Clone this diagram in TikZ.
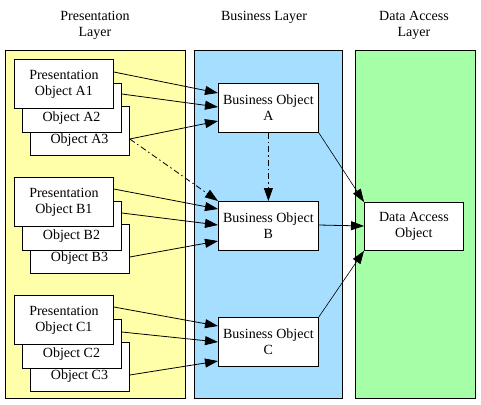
\documentclass[tikz,border=0pt]{standalone}
\usepackage{fontspec}
\setmainfont{Liberation Serif}
\usetikzlibrary{arrows.meta}
\definecolor{presy}{HTML}{FFFFAA}
\definecolor{busb}{HTML}{A6DEFF}
\definecolor{datag}{HTML}{A6FFA6}
\tikzset{
  panel/.style={draw=black, line width=0.8pt, anchor=north west, inner sep=0pt},
  objbox/.style={draw=black, fill=white, line width=0.8pt, inner sep=0pt, anchor=north west,
     minimum width=99pt, minimum height=49pt, align=center, font=\fontsize{14}{16}\selectfont},
  lbl/.style={inner sep=0pt, align=center, font=\fontsize{14}{16}\selectfont},
  conn/.style={line width=0.8pt, -{Triangle[length=13pt,width=9pt]}},
  thinconn/.style={line width=0.6pt, -{Triangle[length=13pt,width=9pt]}},
  dashdot/.style={line width=0.8pt, dash pattern=on 6pt off 3pt on 1.5pt off 3pt, -{Triangle[length=13pt,width=9pt]}}
}
\begin{document}
\begin{tikzpicture}[x=1pt,y=-1pt]
\useasboundingbox (0,0) rectangle (481,404);
\fill[white] (0,0) rectangle (481,404);
% panels
\node[panel, fill=presy, minimum width=180pt, minimum height=348pt] (pl) at (5,50) {};
\node[panel, fill=busb, minimum width=148pt, minimum height=348pt] (bl) at (194,50) {};
\node[panel, fill=datag, minimum width=120pt, minimum height=348pt] (dl) at (355,50) {};
% headers
\node[lbl] (hp) at (95,25) {Presentation\\Layer};
\node[lbl] (hb) at (264,17) {Business Layer};
\node[lbl] (hd) at (414,25) {Data Access\\Layer};
% presentation A
\node[objbox] (a3) at (30,106) {};
\node[lbl] (a3t) at (79.5,140) {Object A3};
\node[objbox] (a2) at (22,83) {};
\node[lbl] (a2t) at (71.5,118) {Object A2};
\node[objbox] (a1) at (14,59) {Presentation\\Object A1};
% presentation B
\node[objbox] (b3) at (30,224) {};
\node[lbl] (b3t) at (79.5,258) {Object B3};
\node[objbox] (b2) at (22,201) {};
\node[lbl] (b2t) at (71.5,236) {Object B2};
\node[objbox] (b1) at (14,177) {Presentation\\Object B1};
% presentation C
\node[objbox] (c3) at (30,342) {};
\node[lbl] (c3t) at (79.5,376) {Object C3};
\node[objbox] (c2) at (22,319) {};
\node[lbl] (c2t) at (71.5,354) {Object C2};
\node[objbox] (c1) at (14,295) {Presentation\\Object C1};
% business
\node[objbox, minimum width=100pt] (ba) at (218,83) {Business Object\\A};
\node[objbox, minimum width=100pt] (bb) at (218,201) {Business Object\\B};
\node[objbox, minimum width=100pt] (bc) at (218,317) {Business Object\\C};
% data access
\node[objbox, minimum height=48pt] (dao) at (364,202) {Data Access\\Object};
% connectors A
\draw[conn] ([yshift=-13pt]a1.north east) -- ([yshift=-10pt]ba.north west);
\draw[conn] ([yshift=-11pt]a2.north east) -- ([yshift=-24pt]ba.north west);
\draw[conn] ([yshift=-33pt]a3.north east) -- ([yshift=-38pt]ba.north west);
\draw[dashdot] ([yshift=-33pt]a3.north east) -- (bb.north west);
\draw[dashdot] (ba.south) -- (bb.north);
% connectors B
\draw[conn] ([yshift=-12pt]b1.north east) -- ([yshift=-8pt]bb.north west);
\draw[conn] ([yshift=-12pt]b2.north east) -- ([yshift=-24pt]bb.north west);
\draw[conn] ([yshift=-33pt]b3.north east) -- ([yshift=-40pt]bb.north west);
% connectors C
\draw[conn] ([yshift=-12pt]c1.north east) -- ([yshift=-9pt]bc.north west);
\draw[conn] ([yshift=-13pt]c2.north east) -- ([yshift=-25pt]bc.north west);
\draw[conn] ([yshift=-33pt]c3.north east) -- ([yshift=-44pt]bc.north west);
% to data access
\draw[thinconn] (ba.south east) -- (dao.north west);
\draw[conn] ([yshift=-24pt]bb.north east) -- ([yshift=-24pt]dao.north west);
\draw[thinconn] (bc.north east) -- (dao.south west);
\end{tikzpicture}
\end{document}
